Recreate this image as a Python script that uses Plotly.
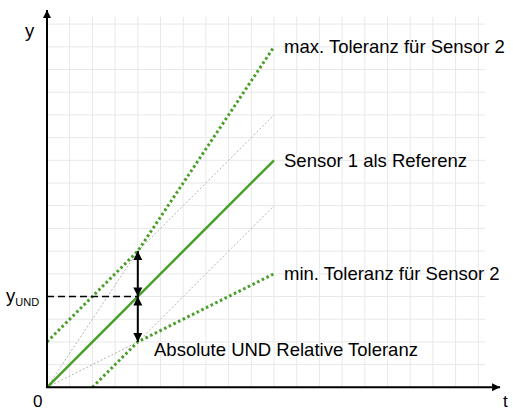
import plotly.graph_objects as go

# --- data -------------------------------------------------------------
# reference sensor (identity line)
t_ref = [0, 10]
y_ref = [0, 10]

# active tolerance envelope (max of absolute and relative tolerance)
t_upper = [0, 4, 10]
y_upper = [2, 6, 15]
t_lower = [2, 4, 10]
y_lower = [0, 2, 5]

# inactive parts of the two tolerance kinds
t_rel_hi = [0, 4]
y_rel_hi = [0, 6]
t_abs_hi = [4, 10]
y_abs_hi = [6, 12]
t_rel_lo = [0, 4]
y_rel_lo = [0, 2]
t_abs_lo = [4, 10]
y_abs_lo = [2, 8]

# crossover point where both tolerances are equal
t_und = 4
y_und = 4
y_und_hi = 6
y_und_lo = 2

label_max = "max. Toleranz für Sensor 2"
label_ref = "Sensor 1 als Referenz"
label_min = "min. Toleranz für Sensor 2"
label_both = "Absolute UND Relative Toleranz"

# --- canvas geometry --------------------------------------------------
W, H = 513, 410
X0_PX, Y0_PX, UNIT_PX = 47.0, 387.3, 22.7
x_range = [-X0_PX / UNIT_PX, (W - X0_PX) / UNIT_PX]
y_range = [(Y0_PX - H) / UNIT_PX, Y0_PX / UNIT_PX]

GRID_T_MAX, GRID_Y_MAX = 19.3, 16.33
AXIS_T_TIP, AXIS_Y_TIP = 19.96, 16.62

GREEN = "#4a9f2b"
GRAY = "#b4b4b4"
FONT = "Arial, Liberation Sans, sans-serif"

fig = go.Figure()

# helper traces: thin gray dotted inactive tolerance lines
for tx, ty in [(t_rel_hi, y_rel_hi), (t_abs_hi, y_abs_hi),
               (t_rel_lo, y_rel_lo), (t_abs_lo, y_abs_lo)]:
    fig.add_trace(go.Scatter(x=tx, y=ty, mode="lines",
                             line=dict(color=GRAY, width=1, dash="2px,2px"),
                             hoverinfo="skip"))

# tolerance envelope
for tx, ty in [(t_upper, y_upper), (t_lower, y_lower)]:
    fig.add_trace(go.Scatter(x=tx, y=ty, mode="lines",
                             line=dict(color=GREEN, width=3, dash="2.6px,2.6px"),
                             hoverinfo="skip"))

# reference line
fig.add_trace(go.Scatter(x=t_ref, y=y_ref, mode="lines",
                         line=dict(color=GREEN, width=2.5), hoverinfo="skip"))

# dashed marker line for y_UND
fig.add_trace(go.Scatter(x=[0, t_und], y=[y_und, y_und], mode="lines",
                         line=dict(color="black", width=1.5, dash="7px,4px"),
                         hoverinfo="skip"))

# double arrows showing the tolerance band at t_UND
fig.add_trace(go.Scatter(x=[t_und, t_und], y=[y_und_lo, y_und_hi], mode="lines",
                         line=dict(color="black", width=2), hoverinfo="skip"))
fig.add_trace(go.Scatter(
    x=[t_und] * 4, y=[y_und_hi, y_und, y_und, y_und_lo], mode="markers",
    marker=dict(symbol=["arrow-up", "arrow-down", "arrow-up", "arrow-down"],
                size=9, color="black", line=dict(width=0)),
    hoverinfo="skip"))

# axes with arrow heads
fig.add_trace(go.Scatter(x=[0, 0, AXIS_T_TIP], y=[AXIS_Y_TIP, 0, 0], mode="lines",
                         line=dict(color="black", width=2), hoverinfo="skip"))
fig.add_trace(go.Scatter(
    x=[0, AXIS_T_TIP], y=[AXIS_Y_TIP, 0], mode="markers",
    marker=dict(symbol=["arrow-up", "arrow-right"], size=8, color="black",
                line=dict(width=0)),
    hoverinfo="skip"))

# background grid
shapes = []
for k in range(1, 20):
    shapes.append(dict(type="line", x0=k, x1=k, y0=0, y1=GRID_Y_MAX,
                       line=dict(color="#e8e8e8", width=1), layer="below"))
for k in range(1, 17):
    shapes.append(dict(type="line", x0=0, x1=GRID_T_MAX, y0=k, y1=k,
                       line=dict(color="#e8e8e8", width=1), layer="below"))

txt = dict(family=FONT, size=18.5, color="black")
small = dict(family=FONT, size=17, color="black")
annotations = [
    dict(x=t_upper[-1], y=y_upper[-1], text=label_max, xanchor="left",
         yanchor="middle", xshift=8, font=txt),
    dict(x=t_ref[-1], y=y_ref[-1], text=label_ref, xanchor="left",
         yanchor="middle", xshift=8, font=txt),
    dict(x=t_lower[-1], y=y_lower[-1], text=label_min, xanchor="left",
         yanchor="middle", xshift=8, font=txt),
    dict(x=t_und, y=y_und_lo, text=label_both, xanchor="left",
         yanchor="middle", xshift=14, yshift=-8, font=txt),
    dict(x=0, y=y_und,
         text="y<sub><span style='font-size:11px'>UND</span></sub>",
         xanchor="right", yanchor="middle", xshift=-6, yshift=0, font=txt),
    dict(x=0, y=AXIS_Y_TIP, text="y", xanchor="right", yanchor="top",
         xshift=-10, yshift=-8, font=txt),
    dict(x=0, y=0, text="0", xanchor="center", yanchor="middle",
         xshift=-10, yshift=-14, font=small, borderpad=0),
    dict(x=AXIS_T_TIP, y=0, text="t", xanchor="center", yanchor="middle",
         xshift=5, yshift=-14, font=small, borderpad=0),
]
for a in annotations:
    a.update(showarrow=False, xref="x", yref="y")

fig.update_layout(
    width=W, height=H,
    margin=dict(l=0, r=0, t=0, b=0),
    paper_bgcolor="white", plot_bgcolor="white",
    showlegend=False,
    shapes=shapes,
    annotations=annotations,
    xaxis=dict(range=x_range, visible=False, fixedrange=True),
    yaxis=dict(range=y_range, visible=False, fixedrange=True),
)

fig.write_html("out.html")
